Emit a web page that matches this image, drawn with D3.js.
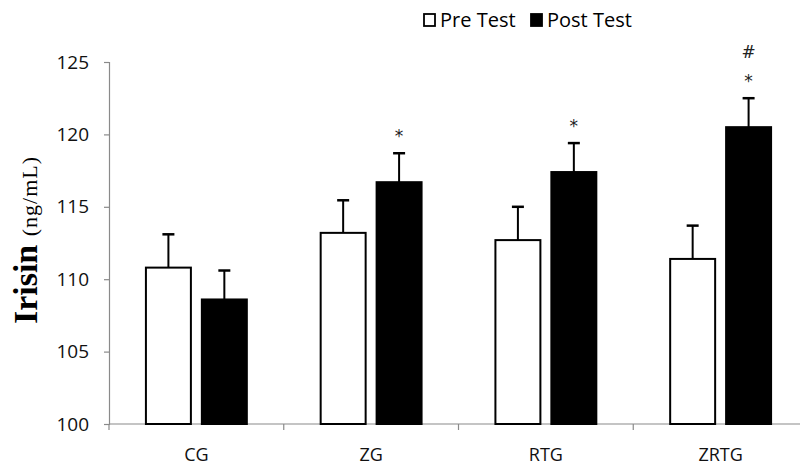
<!DOCTYPE html>
<html>
<head>
<meta charset="utf-8">
<script src="https://cdn.jsdelivr.net/npm/d3@7"></script>
<style>
  body { margin: 0; background: #fff; }
  svg { display: block; }
</style>
</head>
<body>
<div id="chart"></div>
<script>
// data
var groups = ["CG", "ZG", "RTG", "ZRTG"];
var series = ["Pre Test", "Post Test"];
var preMean = [110.8, 113.2, 112.7, 111.4];
var preErr = [2.3, 2.25, 2.3, 2.3];
var postMean = [108.6, 116.7, 117.4, 120.5];
var postErr = [2.0, 2.0, 2.0, 2.0];
var postMarks = ["", "*", "*", "*#"];
var yTicks = [100, 105, 110, 115, 120, 125];

var w = 800, h = 466;
var mLeft = 109, mRight = 808, mTop = 62, mBottom = 424;
var axisColor = "#8a8a8a";

var svg = d3.select("#chart").append("svg")
    .attr("width", w)
    .attr("height", h);

var x0 = d3.scaleBand().domain(groups).range([mLeft, mRight]).padding(0);
var x1 = d3.scaleBand().domain(series).range([0, x0.bandwidth()])
    .paddingInner(0.196).paddingOuter(0.66);
var y = d3.scaleLinear().domain([100, 125]).range([mBottom, mTop]);

// y axis
var yAxis = d3.axisLeft(y).tickValues(yTicks).tickSize(5).tickPadding(15);
var gy = svg.append("g").attr("transform", "translate(" + mLeft + ",0)").call(yAxis);
gy.select(".domain").attr("stroke", axisColor).attr("stroke-width", 1.2);
gy.selectAll(".tick line").attr("stroke", axisColor).attr("stroke-width", 1.2);
gy.selectAll(".tick text")
    .attr("font-family", "Open Sans")
    .attr("font-size", 19)
    .attr("fill", "#111");

// x axis: ticks at group boundaries
svg.append("line")
    .attr("x1", mLeft).attr("x2", mRight)
    .attr("y1", mBottom).attr("y2", mBottom)
    .attr("stroke", axisColor).attr("stroke-width", 1.2);
svg.selectAll(".xtick")
    .data(groups)
    .enter().append("line")
    .attr("class", "xtick")
    .attr("x1", d => x0(d)).attr("x2", d => x0(d))
    .attr("y1", mBottom).attr("y2", mBottom + 6)
    .attr("stroke", axisColor).attr("stroke-width", 1.2);
svg.selectAll(".xlabel")
    .data(groups)
    .enter().append("text")
    .attr("x", d => x0(d) + x0.bandwidth() / 2)
    .attr("y", 461)
    .attr("text-anchor", "middle")
    .attr("font-family", "Open Sans")
    .attr("font-size", 18)
    .attr("fill", "#111")
    .text(d => d);

// bars
var rows = [];
groups.forEach((g, i) => {
    rows.push({ g: g, s: "Pre Test", v: preMean[i], e: preErr[i], mark: "" });
    rows.push({ g: g, s: "Post Test", v: postMean[i], e: postErr[i], mark: postMarks[i] });
});

var bar = svg.selectAll(".bar")
    .data(rows)
    .enter().append("g")
    .attr("class", "bar")
    .attr("transform", d => "translate(" + (x0(d.g) + x1(d.s)) + ",0)");

// error bars (upper only)
bar.append("line")
    .attr("x1", x1.bandwidth() / 2).attr("x2", x1.bandwidth() / 2)
    .attr("y1", d => y(d.v)).attr("y2", d => y(d.v + d.e))
    .attr("stroke", "#000").attr("stroke-width", 2);
bar.append("line")
    .attr("x1", x1.bandwidth() / 2 - 6).attr("x2", x1.bandwidth() / 2 + 6)
    .attr("y1", d => y(d.v + d.e)).attr("y2", d => y(d.v + d.e))
    .attr("stroke", "#000").attr("stroke-width", 2.5);

bar.append("rect")
    .attr("x", 0)
    .attr("y", d => y(d.v))
    .attr("width", x1.bandwidth())
    .attr("height", d => y(100) - y(d.v))
    .attr("fill", d => d.s === "Pre Test" ? "#fff" : "#000")
    .attr("stroke", "#000")
    .attr("stroke-width", 2);

// significance marks
bar.filter(d => d.mark.indexOf("*") >= 0).append("text")
    .attr("x", x1.bandwidth() / 2)
    .attr("y", d => y(d.v + d.e) - 11)
    .attr("text-anchor", "middle")
    .attr("font-family", "DejaVu Sans")
    .attr("font-size", 17)
    .attr("fill", "#222")
    .text("*");
bar.filter(d => d.mark.indexOf("#") >= 0).append("text")
    .attr("x", x1.bandwidth() / 2)
    .attr("y", d => y(d.v + d.e) - 40)
    .attr("text-anchor", "middle")
    .attr("font-family", "DejaVu Sans")
    .attr("font-size", 17)
    .attr("fill", "#222")
    .text("#");

// legend
var legendX = [424, 531];
var legend = svg.selectAll(".legend")
    .data(series)
    .enter().append("g")
    .attr("class", "legend")
    .attr("transform", (d, i) => "translate(" + legendX[i] + ",14)");
legend.append("rect")
    .attr("width", 11).attr("height", 12)
    .attr("fill", (d, i) => i === 0 ? "#fff" : "#000")
    .attr("stroke", "#000").attr("stroke-width", 1.8);
legend.append("text")
    .attr("x", 16).attr("y", 13)
    .attr("font-family", "Open Sans")
    .attr("font-size", 20)
    .attr("fill", "#000")
    .text(d => d);

// y label
var ylab = svg.append("text")
    .attr("transform", "translate(37,240) rotate(-90)")
    .attr("text-anchor", "middle")
    .attr("font-family", "Liberation Serif")
    .attr("fill", "#000");
ylab.append("tspan").attr("font-size", 34).attr("font-weight", "bold").text("Irisin ");
ylab.append("tspan").attr("font-size", 22).attr("letter-spacing", 1).text("(ng/mL)");
</script>
</body>
</html>
